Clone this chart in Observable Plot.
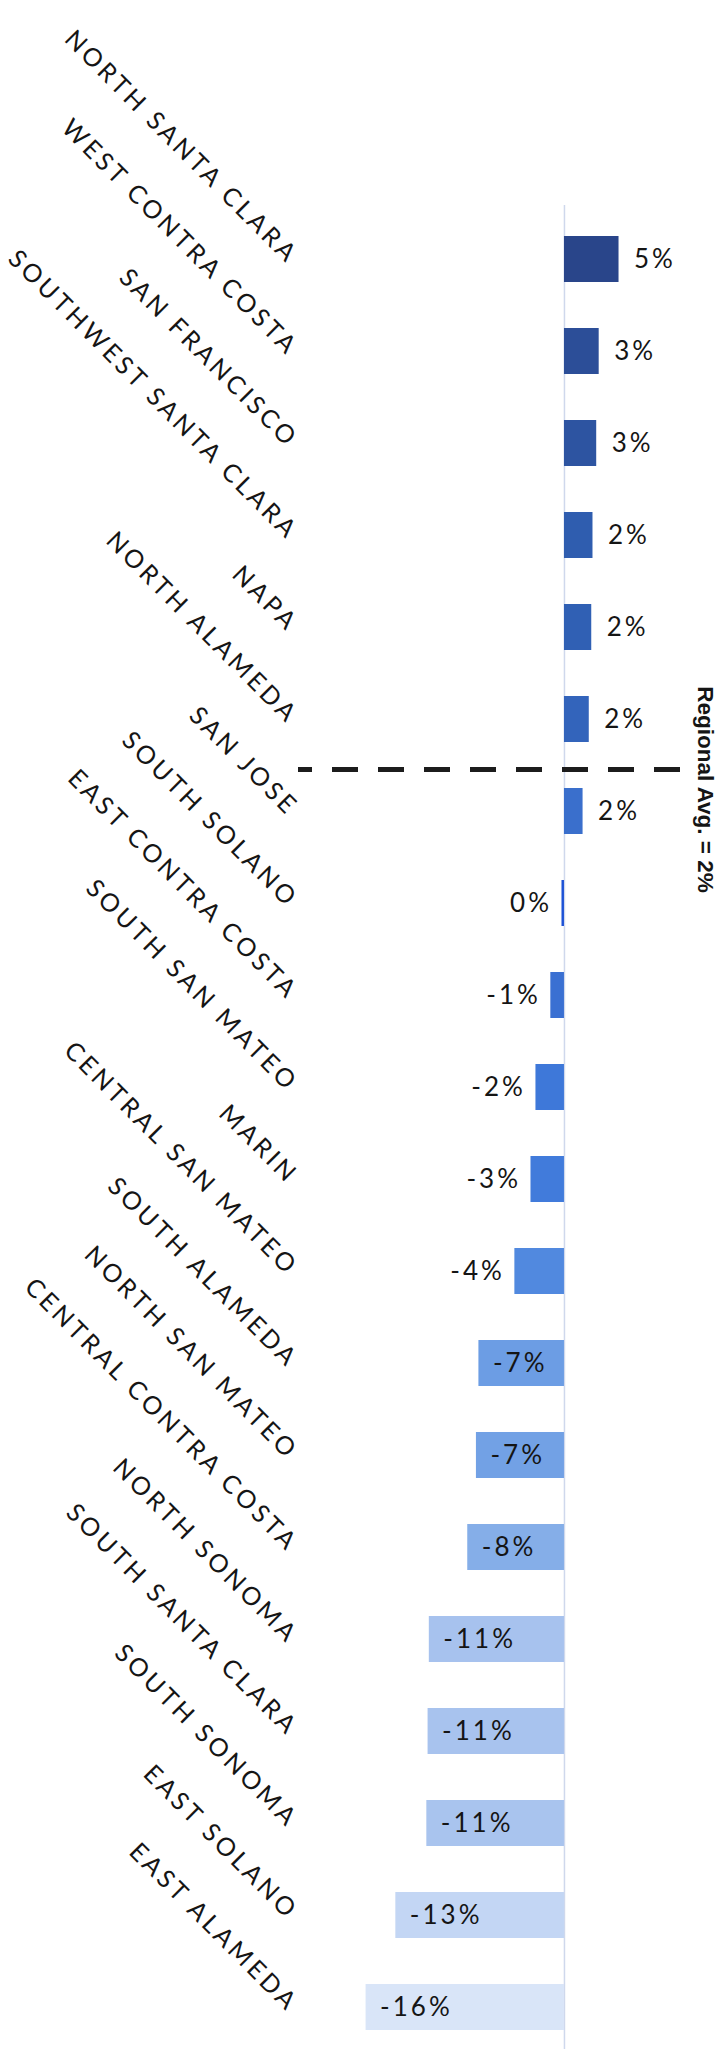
<!DOCTYPE html>
<html>
<head>
<meta charset="utf-8">
<script src="https://cdn.jsdelivr.net/npm/d3@7"></script>
<script src="https://cdn.jsdelivr.net/npm/@observablehq/plot@0.6"></script>
<style>
  html, body { margin: 0; padding: 0; background: #ffffff; }
  #chart svg { display: block; }
</style>
</head>
<body>
<div id="chart"></div>
<script>
// ---- data ----
const regions = [
  "NORTH SANTA CLARA", "WEST CONTRA COSTA", "SAN FRANCISCO", "SOUTHWEST SANTA CLARA",
  "NAPA", "NORTH ALAMEDA", "SAN JOSE", "SOUTH SOLANO", "EAST CONTRA COSTA",
  "SOUTH SAN MATEO", "MARIN", "CENTRAL SAN MATEO", "SOUTH ALAMEDA", "NORTH SAN MATEO",
  "CENTRAL CONTRA COSTA", "NORTH SONOMA", "SOUTH SANTA CLARA", "SOUTH SONOMA",
  "EAST SOLANO", "EAST ALAMEDA"
];
const changes = [4.4, 2.8, 2.6, 2.3, 2.2, 2.0, 1.5, -0.2, -1.1, -2.3, -2.7, -4.0,
                 -6.9, -7.1, -7.8, -10.9, -11.0, -11.1, -13.6, -16.0];
const valueLabels = ["5%", "3%", "3%", "2%", "2%", "2%", "2%", "0%", "-1%", "-2%", "-3%", "-4%",
                     "-7%", "-7%", "-8%", "-11%", "-11%", "-11%", "-13%", "-16%"];
const regionalAvgLabel = "Regional Avg. = 2%";
const regionalAvgBefore = "SAN JOSE";

const data = regions.map((region, i) => ({region, change: changes[i], label: valueLabels[i]}));

const labelFont = "Lato, 'Open Sans', sans-serif";

const chart = Plot.plot({
  width: 726,
  height: 2049,
  marginTop: 205,
  marginBottom: -12,
  marginLeft: 298,
  marginRight: 43,
  style: {background: "transparent", fontFamily: labelFont, color: "#151515"},
  x: {domain: [-21.45, 9.6], axis: null},
  y: {domain: regions, paddingInner: 0.5, paddingOuter: 0.25, axis: null},
  color: {
    type: "linear",
    interpolate: "rgb",
    domain: [-16, -13.6, -11, -7.8, -6.9, -4, -2.5, -1.1, -0.2, 1.5, 2.2, 2.8, 4.4],
    range: ["#d9e5f8", "#c3d6f4", "#a8c3ee", "#85aee8", "#6c9de4", "#5189df", "#3f79da",
            "#3a70d2", "#1d52d6", "#3a6fcc", "#3060b4", "#2c4e98", "#29458a"]
  },
  marks: [
    Plot.ruleX([0], {stroke: "#cfd8ec", strokeWidth: 1.5}),
    Plot.barX(data, {x: "change", y: "region", fill: "change"}),
    Plot.text(data.filter(d => d.change > 0), {
      x: "change", y: "region", text: "label", textAnchor: "start", dx: 15,
      fontSize: 26, fill: "#151515", fontFamily: labelFont
    }),
    Plot.text(data.filter(d => d.change <= 0 && d.change > -5), {
      x: "change", y: "region", text: "label", textAnchor: "end", dx: -10,
      fontSize: 26, fill: "#151515", fontFamily: labelFont
    }),
    Plot.text(data.filter(d => d.change <= -5), {
      x: "change", y: "region", text: "label", textAnchor: "start", dx: 14,
      fontSize: 26, fill: "#151515", fontFamily: labelFont
    }),
    Plot.ruleY([regionalAvgBefore], {
      dy: -42, stroke: "#1c1c1c", strokeWidth: 5,
      strokeDasharray: "26,20", strokeDashoffset: 12
    }),
    Plot.text([regionalAvgLabel], {
      text: d => d, y: () => regionalAvgBefore, frameAnchor: "right", textAnchor: "middle",
      rotate: 90, dx: 22, dy: -22, fontSize: 22.5, fontWeight: "bold",
      fontFamily: "'Liberation Sans', Arial, sans-serif", fill: "#151515"
    }),
    Plot.axisY({
      tickSize: 0, tickRotate: 45, tickPadding: 5, fontSize: 25,
      fill: "#151515", label: null, fontFamily: labelFont
    })
  ]
});

document.getElementById("chart").appendChild(chart);

// letter tracking like the original's typography
d3.select(chart).selectAll('g[aria-label="y-axis tick label"] text').style("letter-spacing", "3.5px");
d3.select(chart).selectAll('g[aria-label="text"] text')
  .filter(function() { return this.textContent !== regionalAvgLabel; })
  .style("letter-spacing", "3px");
</script>
</body>
</html>
